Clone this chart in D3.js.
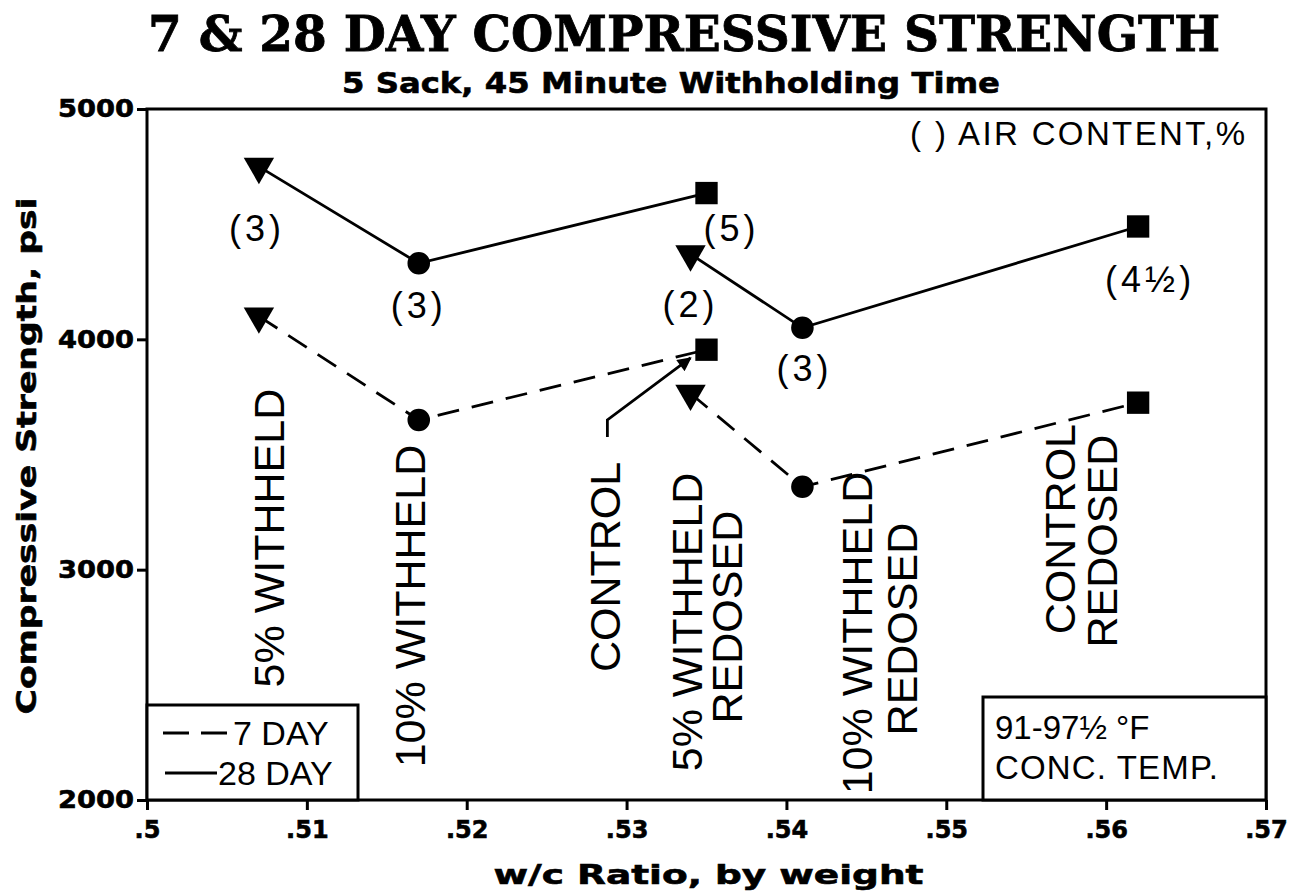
<!DOCTYPE html>
<html><head><meta charset="utf-8">
<script src="https://cdn.jsdelivr.net/npm/d3@7"></script>
<style>body{margin:0;background:#fff}</style>
</head><body>
<svg id="chart" width="1289" height="896"></svg>
<script>
// ---- data ----
const xTickValues = [.5, .51, .52, .53, .54, .55, .56, .57];
const xTickLabels = [".5", ".51", ".52", ".53", ".54", ".55", ".56", ".57"];
const yTickValues = [2000, 3000, 4000, 5000];
const yTickLabels = ["2000", "3000", "4000", "5000"];
const treatments = ["5% withheld", "10% withheld", "control", "5% withheld redosed", "10% withheld redosed", "control redosed"];
const wcRatio = [.507, .517, .535, .534, .541, .562];
const strength28 = [4750, 4330, 4635, 4370, 4050, 4490];
const strength7 = [4100, 3650, 3955, 3765, 3360, 3725];
const airContent = ["(3)", "(3)", "(5)", "(2)", "(3)", "(4½)"];
const markerShapes = ["triangle", "circle", "square", "triangle", "circle", "square"];
const groups = [[0, 1, 2], [3, 4, 5]];
// treatment annotation lines: [text, wc ratio, psi]
const annotLines = [
  ["5% WITHHELD", .5076, 3137],
  ["10% WITHHELD", .51645, 2842],
  ["CONTROL", .52859, 3012],
  ["5% WITHHELD", .53372, 2773],
  ["REDOSED", .53628, 2794],
  ["10% WITHHELD", .54441, 2725],
  ["REDOSED", .54717, 2742],
  ["CONTROL", .55711, 3176],
  ["REDOSED", .55974, 3124]
];
const controlArrow = [[.5288, 3576], [.5288, 3650], [.5340, 3919]];

// ---- layout ----
const svg = d3.select("#chart");
const W = 1289, H = 896;
const x = d3.scaleLinear().domain([.5, .57]).range([147, 1266]);
const y = d3.scaleLinear().domain([2000, 5000]).range([800, 109]);
const heavy = "'DejaVu Sans', Verdana, sans-serif";
const plain = "'Liberation Sans', Arial, Helvetica, sans-serif";

svg.append("rect").attr("width", W).attr("height", H).attr("fill", "#fff");

// title
svg.append("text").attr("x", 684).attr("y", 51).attr("text-anchor", "middle")
  .attr("font-family", "'DejaVu Serif', 'Liberation Serif', serif").attr("font-weight", "bold")
  .attr("font-size", 48).attr("textLength", 1072).attr("lengthAdjust", "spacingAndGlyphs")
  .attr("stroke", "#000").attr("stroke-width", 0.8)
  .text("7 & 28 DAY COMPRESSIVE STRENGTH");
svg.append("text").attr("x", 671).attr("y", 93).attr("text-anchor", "middle")
  .attr("font-family", heavy).attr("font-weight", "bold")
  .attr("font-size", 28).attr("textLength", 658).attr("lengthAdjust", "spacingAndGlyphs")
  .attr("stroke", "#000").attr("stroke-width", 0.6)
  .text("5 Sack, 45 Minute Withholding Time");

// axes
const yAxis = d3.axisLeft(y).tickValues(yTickValues).tickFormat((d, i) => yTickLabels[i]).tickSize(10).tickPadding(3);
const xAxis = d3.axisBottom(x).tickValues(xTickValues).tickFormat((d, i) => xTickLabels[i]).tickSize(10).tickPadding(11);
const gy = svg.append("g").attr("transform", `translate(${x(.5)},0)`).call(yAxis);
const gx = svg.append("g").attr("transform", `translate(0,${y(2000)})`).call(xAxis);
[gx, gy].forEach(g => {
  g.select(".domain").remove();
  g.selectAll("line").attr("stroke", "#000").attr("stroke-width", 3);
  g.selectAll("text").attr("fill", "#000").attr("font-family", heavy).attr("font-weight", "bold").attr("font-size", 24)
    .attr("stroke", "#000").attr("stroke-width", 0.6);
});
gy.selectAll("text").attr("textLength", 76).attr("lengthAdjust", "spacingAndGlyphs");

// frame
svg.append("rect").attr("x", x(.5)).attr("y", y(5000)).attr("width", x(.57) - x(.5)).attr("height", y(2000) - y(5000))
  .attr("fill", "none").attr("stroke", "#000").attr("stroke-width", 3);

// axis titles
svg.append("text").attr("transform", `translate(${(x(.5) + x(.57)) / 2 + 2},884)`).attr("text-anchor", "middle")
  .attr("font-family", heavy).attr("font-weight", "bold").attr("font-size", 27)
  .attr("stroke", "#000").attr("stroke-width", 0.6)
  .attr("textLength", 430).attr("lengthAdjust", "spacingAndGlyphs")
  .text("w/c Ratio, by weight");
svg.append("text").attr("transform", `translate(36,456) rotate(-90)`).attr("text-anchor", "middle")
  .attr("font-family", heavy).attr("font-weight", "bold").attr("font-size", 27)
  .attr("stroke", "#000").attr("stroke-width", 0.6)
  .attr("textLength", 517).attr("lengthAdjust", "spacingAndGlyphs")
  .text("Compressive Strength, psi");

// lines
const line = d3.line().x(i => x(wcRatio[i]));
groups.forEach(g => {
  svg.append("path").attr("d", line.y(i => y(strength28[i]))(g))
    .attr("fill", "none").attr("stroke", "#000").attr("stroke-width", 2.8);
  svg.append("path").attr("d", line.y(i => y(strength7[i]))(g))
    .attr("fill", "none").attr("stroke", "#000").attr("stroke-width", 2.8).attr("stroke-dasharray", "22,13");
});

// markers
const symbolFor = s => s === "triangle" ? d3.symbol(d3.symbolTriangle, 400) :
  s === "circle" ? d3.symbol(d3.symbolCircle, 400) : d3.symbol(d3.symbolSquare, 500);
[strength28, strength7].forEach(series => {
  svg.append("g").selectAll("path").data(wcRatio).join("path")
    .attr("d", (d, i) => symbolFor(markerShapes[i])())
    .attr("transform", (d, i) => `translate(${x(d)},${y(series[i])})` + (markerShapes[i] === "triangle" ? " rotate(180)" : ""))
    .attr("fill", "#000");
});

// air content labels (28-day)
const airOffsets = [[-2, 61], [0, 42], [25, 35], [0, 50], [2, 40], [12, 53]];
svg.append("g").selectAll("text").data(airContent).join("text")
  .attr("x", (d, i) => x(wcRatio[i]) + airOffsets[i][0])
  .attr("y", (d, i) => y(strength28[i]) + airOffsets[i][1])
  .attr("dy", "0.36em").attr("text-anchor", "middle")
  .attr("font-family", plain).attr("font-size", 36).attr("letter-spacing", 4)
  .text(d => d);

svg.append("text").attr("x", 1245).attr("y", 145).attr("text-anchor", "end")
  .attr("font-family", plain).attr("font-size", 33).attr("textLength", 335).attr("lengthAdjust", "spacing")
  .text("( ) AIR CONTENT,%");

// treatment annotations (rotated)
svg.append("g").selectAll("text").data(annotLines).join("text")
  .attr("transform", d => `translate(${x(d[1])},${y(d[2])}) rotate(-90)`)
  .attr("text-anchor", "middle").attr("dy", "0.36em")
  .attr("font-family", plain).attr("font-size", 43)
  .text(d => d[0]);

// control arrow
svg.append("defs").append("marker").attr("id", "arr").attr("viewBox", "0 0 10 10")
  .attr("refX", 9).attr("refY", 5).attr("markerWidth", 6).attr("markerHeight", 5).attr("orient", "auto")
  .attr("markerUnits", "strokeWidth")
  .append("path").attr("d", "M0,0 L10,5 L0,10 z").attr("fill", "#000");
svg.append("path").attr("d", d3.line().x(d => x(d[0])).y(d => y(d[1]))(controlArrow))
  .attr("fill", "none").attr("stroke", "#000").attr("stroke-width", 2.8).attr("marker-end", "url(#arr)");

// legend box
const lg = svg.append("g");
lg.append("rect").attr("x", x(.5)).attr("y", 705).attr("width", 211).attr("height", y(2000) - 705)
  .attr("fill", "#fff").attr("stroke", "#000").attr("stroke-width", 3);
lg.append("line").attr("x1", 163).attr("x2", 228).attr("y1", 733).attr("y2", 733)
  .attr("stroke", "#000").attr("stroke-width", 2.8).attr("stroke-dasharray", "26,12");
lg.append("line").attr("x1", 165).attr("x2", 217).attr("y1", 773).attr("y2", 773)
  .attr("stroke", "#000").attr("stroke-width", 2.8);
lg.append("text").attr("x", 233).attr("y", 745).attr("font-family", plain).attr("font-size", 34).text("7 DAY");
lg.append("text").attr("x", 218).attr("y", 785).attr("font-family", plain).attr("font-size", 34).text("28 DAY");

// temperature box
const tb = svg.append("g");
tb.append("rect").attr("x", 983).attr("y", 697).attr("width", x(.57) - 983).attr("height", y(2000) - 697)
  .attr("fill", "#fff").attr("stroke", "#000").attr("stroke-width", 3);
tb.append("text").attr("x", 995).attr("y", 739).attr("font-family", plain).attr("font-size", 33)
  .text("91-97½ °F");
tb.append("text").attr("x", 995).attr("y", 779).attr("font-family", plain).attr("font-size", 33)
  .attr("textLength", 223).attr("lengthAdjust", "spacing").text("CONC. TEMP.");
</script>
</body></html>
